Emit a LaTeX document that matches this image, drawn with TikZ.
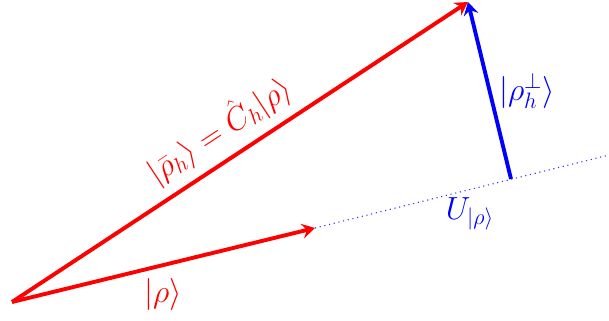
\documentclass[tikz,border=0pt]{standalone}
\usepackage{amsmath,amssymb}
\usetikzlibrary{arrows.meta, calc}
\definecolor{vecred}{RGB}{255,0,0}
\definecolor{vecblue}{RGB}{0,0,255}

\begin{document}
\begin{tikzpicture}[x=0.54pt, y=0.54pt,
    vec/.style={line width=2.1pt,-{Stealth[length=7pt,width=8pt,inset=2.5pt]}},
    lbl/.style={font=\LARGE}]
        \useasboundingbox (0,0) rectangle (609,321);
        % Points
        \coordinate (o) at (12,19);
        \coordinate (rho) at (315,93);
        \coordinate (tip) at (468,319);
        \coordinate (foot) at (511,142);
        \coordinate (uend) at (609,166);
        % Subspace (dotted)
        \draw[vecblue!80,dotted,line width=0.6pt] (rho) -- (uend);
        % Vectors
        \draw[vec,vecred] (o) -- (rho);
        \draw[vec,vecred] (o) -- (tip);
        \draw[vec,vecblue] (foot) -- (tip);
        % Labels
        \node[lbl,vecred] (lrho) at (163,26) {$|\rho\rangle$};
        \node[lbl,vecred,rotate=33.3] (lbar) at (219,191) {$|\bar\rho_h\rangle = \hat{C}_h|\rho\rangle$};
        \node[lbl,vecblue] (lperp) at (527,230) {$|\rho_h^{\perp}\rangle$};
        \node[lbl,vecblue] (lsub) at (470,107) {$U_{|\rho\rangle}$};
\end{tikzpicture}
\end{document}
